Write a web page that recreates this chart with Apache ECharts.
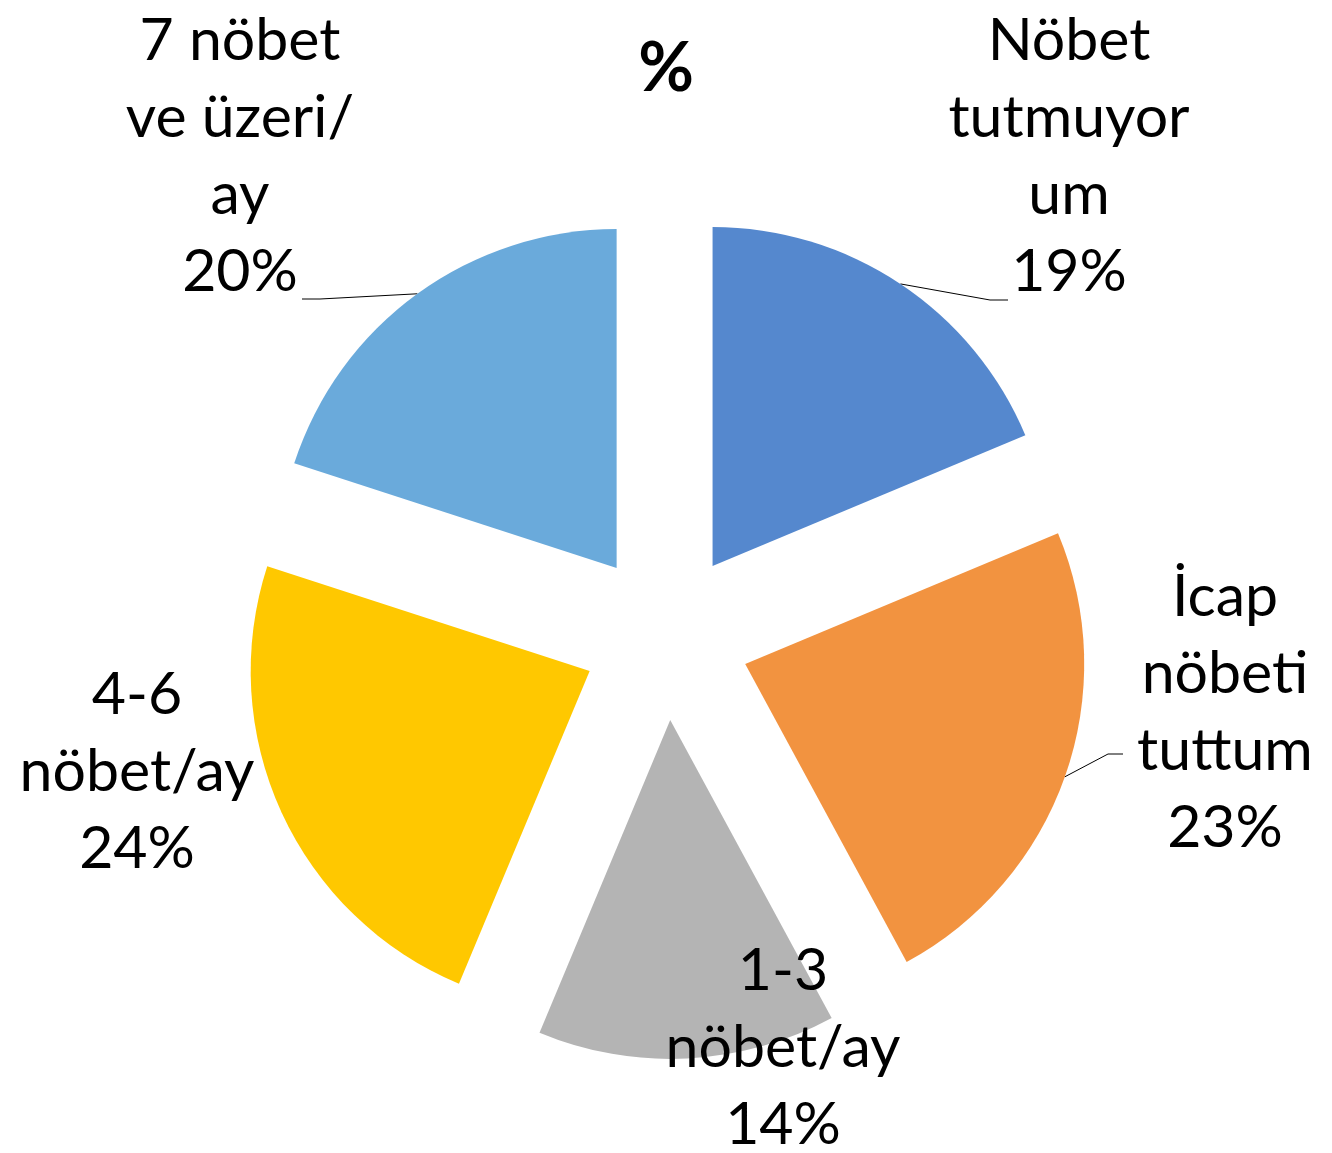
<!DOCTYPE html>
<html>
<head>
<meta charset="utf-8">
<script src="https://cdn.jsdelivr.net/npm/echarts@6/dist/echarts.min.js"></script>
<style>
  html, body { margin: 0; padding: 0; background: #fff; }
  #chart { width: 1332px; height: 1153px; }
</style>
</head>
<body>
<div id="chart"></div>
<script>
// data (shares; labels show them rounded)
const categories = ['Nöbet tutmuyorum', 'İcap nöbeti tuttum', '1-3 nöbet/ay', '4-6 nöbet/ay', '7 nöbet ve üzeri/ay'];
const labelNames = ['Nöbet\ntutmuyor\num', 'İcap\nnöbeti\ntuttum', '1-3\nnöbet/ay', '4-6\nnöbet/ay', '7 nöbet\nve üzeri/\nay'];
const values = [18.7, 23.4, 14.2, 23.7, 20.0];
const colors = ['#5588CE', '#F29340', '#B4B4B4', '#FFC800', '#6AAADB'];

// label centres and leader line bends (relative to label centre), px
const labelPos = [[1069, 156], [1225, 712], [783, 1048], [137, 772], [240, 156]];
const lineBend = [[[-79, 144], [-61, 144]], [[-117, 42], [-102, 42]], null, null, [[80, 143], [62, 143]]];

const CX = 666, CY = 636, R = 339, OFFSET = 84;
const total = values.reduce((a, b) => a + b, 0);

// mid angle of each slice (clockwise from 12 o'clock)
const midAngle = values.map((v, i) => {
  const before = values.slice(0, i).reduce((a, b) => a + b, 0);
  return (before + v / 2) / total * Math.PI * 2;
});

const myChart = echarts.init(document.getElementById('chart'));

const option = {
  animation: false,
  title: {
    text: '%',
    left: 'center',
    top: 30,
    textStyle: { fontFamily: 'Lato', fontWeight: 'bold', fontSize: 68, color: '#000' }
  },
  series: [
    {
      // exploded slices
      type: 'pie',
      center: [CX, CY],
      radius: R,
      startAngle: 90,
      clockwise: true,
      selectedMode: 'multiple',
      selectedOffset: OFFSET,
      emphasis: { disabled: true },
      select: { itemStyle: { borderWidth: 0 } },
      label: { show: false },
      labelLine: { show: false },
      data: values.map((v, i) => ({
        name: categories[i],
        value: v,
        selected: true,
        itemStyle: { color: colors[i] }
      }))
    },
    {
      // labels and leader lines
      type: 'pie',
      center: [CX, CY],
      radius: R,
      startAngle: 90,
      clockwise: true,
      silent: true,
      selectedMode: false,
      avoidLabelOverlap: false,
      itemStyle: { color: 'rgba(0,0,0,0)' },
      label: {
        show: true,
        position: 'outside',
        fontFamily: 'Lato',
        fontSize: 59,
        lineHeight: 77,
        color: '#000',
        align: 'center',
        formatter: p => labelNames[p.dataIndex] + '\n' + Math.round(p.percent) + '%'
      },
      labelLine: {
        show: true,
        lineStyle: { color: '#000', width: 1 }
      },
      labelLayout: p => {
        const i = p.dataIndex;
        const [lx, ly] = labelPos[i];
        const res = { x: lx, y: ly, align: 'center', verticalAlign: 'middle' };
        if (lineBend[i]) {
          const a = midAngle[i];
          const start = [CX + (R + OFFSET) * Math.sin(a), CY - (R + OFFSET) * Math.cos(a)];
          res.labelLinePoints = [
            start,
            [lx + lineBend[i][0][0], ly + lineBend[i][0][1]],
            [lx + lineBend[i][1][0], ly + lineBend[i][1][1]]
          ];
        }
        return res;
      },
      data: values.map((v, i) => ({
        name: categories[i],
        value: v,
        labelLine: { show: !!lineBend[i] }
      }))
    }
  ]
};

myChart.setOption(option);
</script>
</body>
</html>
